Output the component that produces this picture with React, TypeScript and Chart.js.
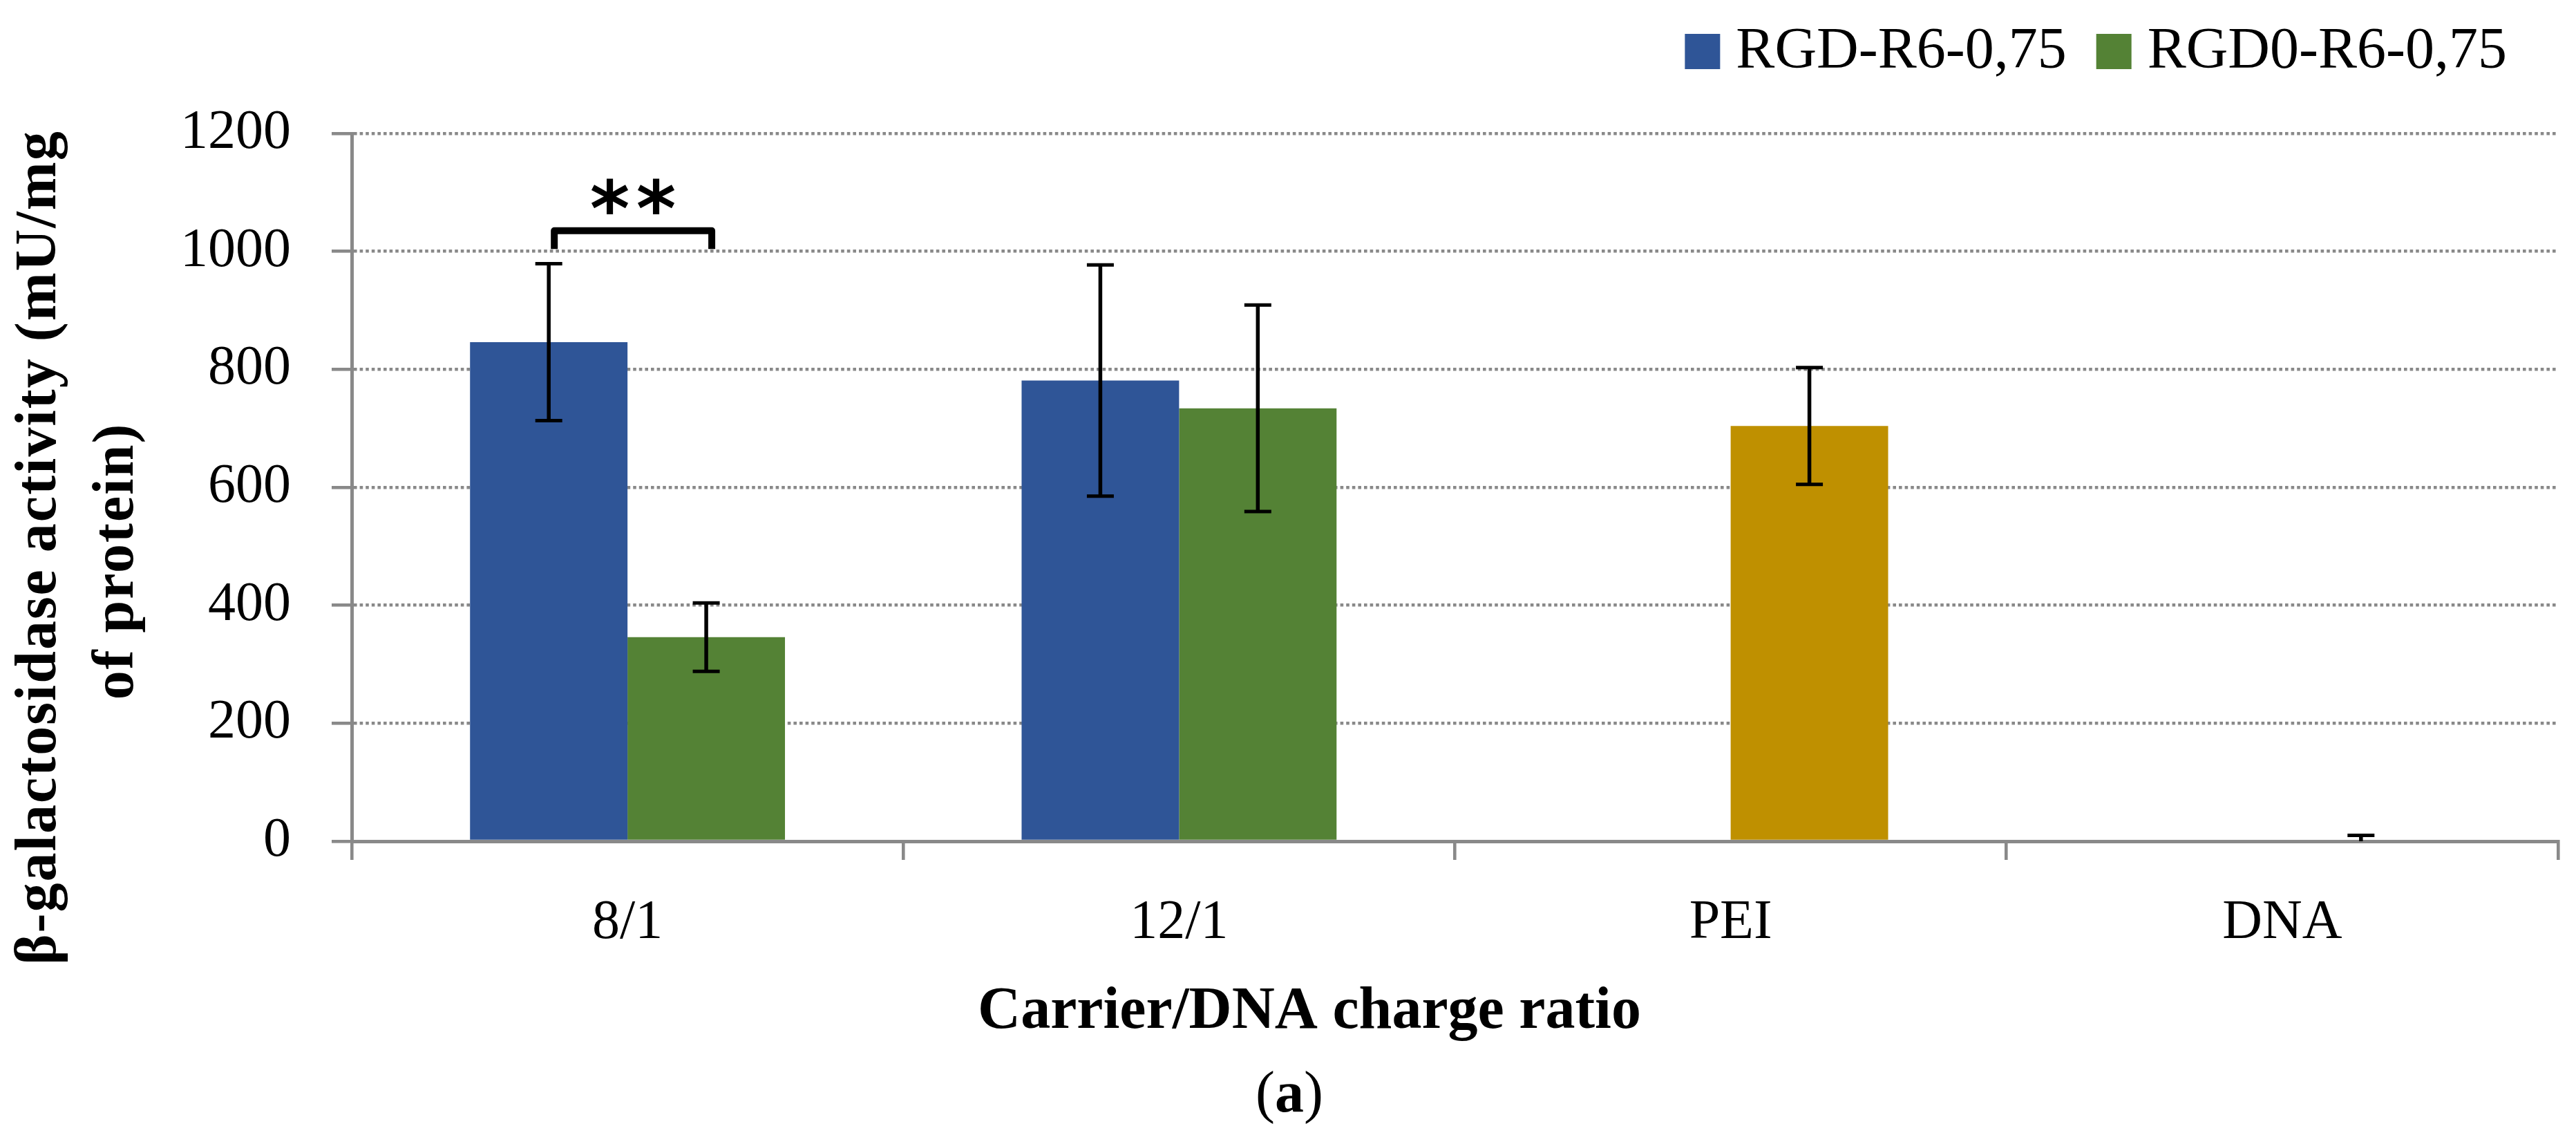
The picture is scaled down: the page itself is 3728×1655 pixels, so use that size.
import { useEffect, useRef } from 'react';
import { Chart, registerables } from 'chart.js';

Chart.register(...registerables);

const categories = ['8/1', '12/1', 'PEI', 'DNA'];
const seriesLabels = ['RGD-R6-0,75', 'RGD0-R6-0,75'];
const rgdValues = [846, 781, null, null];
const rgdErrors = [133, 196, null, null];
const rgd0Values = [346, 734, 704, 0];
const rgd0Errors = [58, 175, 99, 10];
const yTickValues = [0, 200, 400, 600, 800, 1000, 1200];
const seriesColors = ['#2F5597', '#548235'];
const rgd0BarColors = ['#548235', '#548235', '#BF9000', '#548235'];
const sigCategoryIndex = 0;
const sigLabel = '**';
const sigLegValue = 1004;
const sigTopValue = 1035;
const sigTextValue = 1093;
const yTitleLines = ['β-galactosidase activity (mU/mg', 'of protein)'];
const xTitle = 'Carrier/DNA charge ratio';
const panelLabel = 'a';

const W = 3728;
const H = 1655;
const SERIF = '"Liberation Serif", "Times New Roman", serif';
const AXIS_GREY = '#898989';

const errorBarsPlugin = {
  id: 'errorBars',
  afterDatasetsDraw(chart: any) {
    const ctx = chart.ctx;
    const y = chart.scales.y;
    const area = chart.chartArea;
    const allErrors = [rgdErrors, rgd0Errors];
    ctx.save();
    ctx.beginPath();
    ctx.rect(0, 0, W, area.bottom);
    ctx.clip();
    ctx.strokeStyle = '#000';
    chart.data.datasets.forEach((ds: any, i: number) => {
      const meta = chart.getDatasetMeta(i);
      const errs = allErrors[i];
      meta.data.forEach((el: any, j: number) => {
        const v = ds.data[j];
        const e = errs[j];
        if (v == null || e == null) return;
        const x = el.x;
        const yt = y.getPixelForValue(v + e);
        const yb = y.getPixelForValue(v - e);
        ctx.lineWidth = 5.5;
        ctx.beginPath();
        ctx.moveTo(x, yt);
        ctx.lineTo(x, yb);
        ctx.stroke();
        ctx.lineWidth = 5;
        ctx.beginPath();
        ctx.moveTo(x - 19.5, yt);
        ctx.lineTo(x + 19.5, yt);
        ctx.moveTo(x - 19.5, yb);
        ctx.lineTo(x + 19.5, yb);
        ctx.stroke();
      });
    });
    ctx.restore();

    // significance bracket
    const a = chart.getDatasetMeta(0).data[sigCategoryIndex];
    const b = chart.getDatasetMeta(1).data[sigCategoryIndex];
    const xl = a.x + 8;
    const xr = b.x + 8;
    const yLeg = y.getPixelForValue(sigLegValue);
    const yTop = y.getPixelForValue(sigTopValue);
    ctx.save();
    ctx.strokeStyle = '#000';
    ctx.lineWidth = 10;
    ctx.lineJoin = 'round';
    ctx.beginPath();
    ctx.moveTo(xl, yLeg);
    ctx.lineTo(xl, yTop);
    ctx.lineTo(xr, yTop);
    ctx.lineTo(xr, yLeg);
    ctx.stroke();
    ctx.fillStyle = '#000';
    ctx.font = 'bold 110px "DejaVu Sans", sans-serif';
    ctx.textAlign = 'center';
    ctx.textBaseline = 'alphabetic';
    const cx = (xl + xr) / 2;
    const cy = y.getPixelForValue(sigTextValue);
    const chars = sigLabel.split('');
    chars.forEach((ch, k) => {
      const m = ctx.measureText(ch);
      const gh = m.actualBoundingBoxAscent + m.actualBoundingBoxDescent;
      const base = cy + gh / 2 - m.actualBoundingBoxDescent;
      const xx = cx + (k - (chars.length - 1) / 2) * 67;
      ctx.fillText(ch, xx, base);
    });
    ctx.restore();
  },
};

const textPlugin = {
  id: 'texts',
  afterDraw(chart: any) {
    const ctx = chart.ctx;
    ctx.save();
    ctx.fillStyle = '#000';

    // legend
    ctx.font = `84px ${SERIF}`;
    ctx.textBaseline = 'alphabetic';
    ctx.textAlign = 'left';
    let right = W - 100;
    const items: any[] = [];
    for (let i = seriesLabels.length - 1; i >= 0; i--) {
      const tw = ctx.measureText(seriesLabels[i]).width;
      const tx = right - tw;
      const bx = tx - 23 - 51;
      items.push({ i, tx, bx });
      right = bx - 43;
    }
    items.forEach(({ i, tx, bx }) => {
      ctx.fillStyle = seriesColors[i];
      ctx.fillRect(bx, 49, 51, 51);
      ctx.fillStyle = '#000';
      ctx.fillText(seriesLabels[i], tx, 98);
    });

    // y title
    ctx.font = `bold 84px ${SERIF}`;
    (ctx as any).letterSpacing = '2px';
    ctx.textAlign = 'center';
    const lineCenters = [792, 812];
    const lineBaselines = [80, 192];
    yTitleLines.forEach((line, i) => {
      ctx.save();
      ctx.translate(lineBaselines[i], lineCenters[i]);
      ctx.rotate(-Math.PI / 2);
      ctx.fillText(line, 0, 0);
      ctx.restore();
    });
    (ctx as any).letterSpacing = '0px';

    // x title
    ctx.font = `bold 86px ${SERIF}`;
    ctx.textAlign = 'center';
    ctx.fillText(xTitle, 1895, 1487);

    // panel label
    ctx.textAlign = 'left';
    ctx.font = `84px ${SERIF}`;
    const wo = ctx.measureText('(').width;
    const wc = ctx.measureText(')').width;
    ctx.font = `bold 84px ${SERIF}`;
    const wa = ctx.measureText(panelLabel).width;
    let px = 1866 - (wo + wa + wc) / 2;
    ctx.font = `84px ${SERIF}`;
    ctx.fillText('(', px, 1608);
    px += wo;
    ctx.font = `bold 84px ${SERIF}`;
    ctx.fillText(panelLabel, px, 1608);
    px += wa;
    ctx.font = `84px ${SERIF}`;
    ctx.fillText(')', px, 1608);
    ctx.restore();
  },
};

export default function App() {
  const ref = useRef<HTMLCanvasElement | null>(null);
  useEffect(() => {
    document.body.style.margin = '0';
    const canvas = ref.current;
    if (!canvas) return;
    const chart = new Chart(canvas, {
      type: 'bar',
      data: {
        labels: categories,
        datasets: [
          { label: seriesLabels[0], data: rgdValues as any, backgroundColor: seriesColors[0], borderWidth: 0 },
          { label: seriesLabels[1], data: rgd0Values as any, backgroundColor: rgd0BarColors, borderWidth: 0 },
        ],
      },
      options: {
        animation: false,
        responsive: false,
        devicePixelRatio: 1,
        layout: { padding: { top: 193, right: 26, left: 0, bottom: 0 } },
        datasets: { bar: { categoryPercentage: 0.571, barPercentage: 1 } } as any,
        plugins: {
          legend: { display: false },
          tooltip: { enabled: false },
          title: { display: false },
        },
        scales: {
          x: {
            type: 'category',
            offset: true,
            grid: {
              display: true,
              drawOnChartArea: false,
              offset: true,
              color: AXIS_GREY,
              lineWidth: 4.6,
              tickLength: 27,
              tickColor: AXIS_GREY,
              tickWidth: 4.6,
              tickBorderDash: [],
            } as any,
            border: { display: true, color: AXIS_GREY, width: 5 },
            ticks: { font: { family: SERIF, size: 80 }, color: '#000', padding: 44 },
            afterFit: (s: any) => { s.height = 438; },
          },
          y: {
            min: 0,
            max: 1200,
            afterBuildTicks: (s: any) => { s.ticks = yTickValues.map((v) => ({ value: v })); },
            grid: {
              color: AXIS_GREY,
              lineWidth: 4.6,
              tickLength: 29,
              tickColor: AXIS_GREY,
              tickWidth: 4.6,
              tickBorderDash: [],
            } as any,
            border: { display: true, color: AXIS_GREY, width: 5, dash: [4.6, 4] },
            ticks: {
              font: { family: SERIF, size: 80 },
              color: '#000',
              padding: 59,
              callback: (v: any) => String(v),
            },
            afterFit: (s: any) => { s.width = 509; },
          },
        },
      },
      plugins: [errorBarsPlugin, textPlugin],
    });
    return () => chart.destroy();
  }, []);
  return (
    <div style={{ width: W, height: H }}>
      <canvas ref={ref} width={W} height={H} style={{ display: 'block', width: W, height: H }} />
    </div>
  );
}
